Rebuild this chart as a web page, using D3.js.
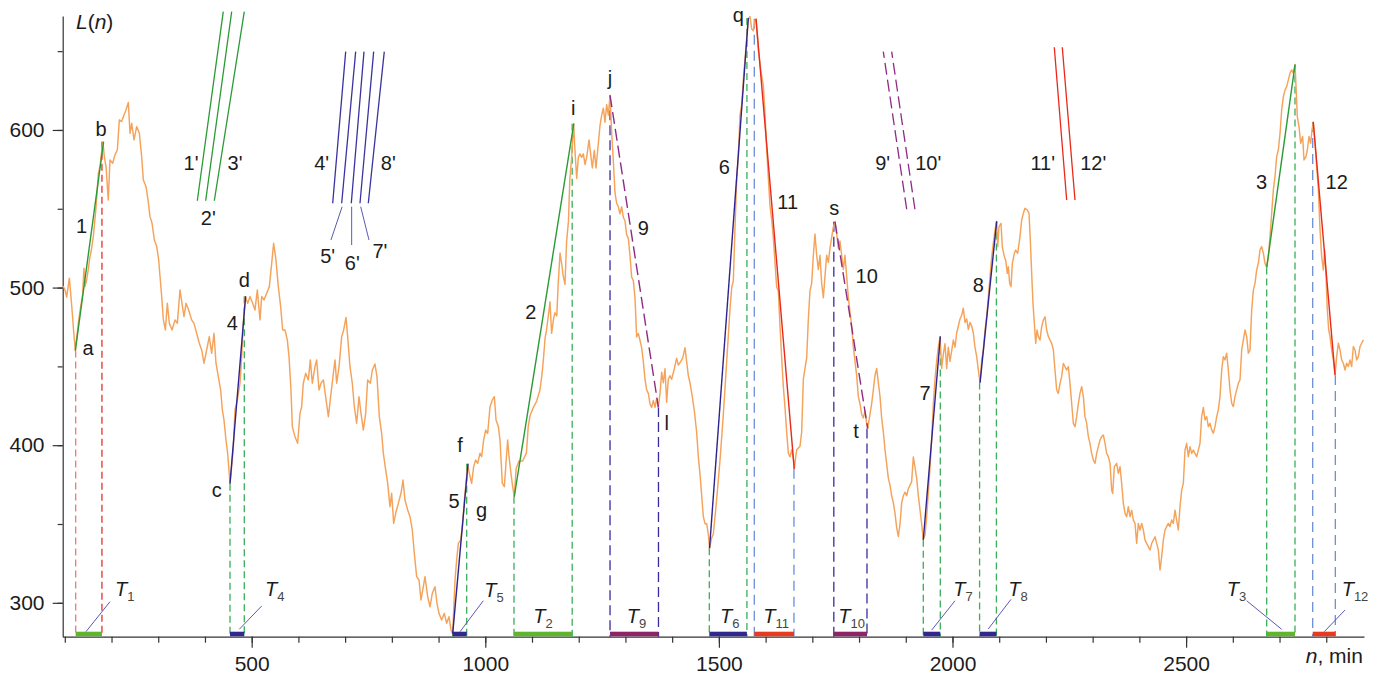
<!DOCTYPE html>
<html>
<head>
<meta charset="utf-8">
<script src="https://cdn.jsdelivr.net/npm/d3@7"></script>
<style>
  html, body { margin: 0; padding: 0; background: #fff; }
  svg { display: block; font-family: "Liberation Sans", Arial, Helvetica, sans-serif; }
</style>
</head>
<body>
<svg id="chart" width="1381" height="675"></svg>
<script>
// ---------------- data ----------------
// Level L(n) against time n (min): traced vertices [n, L]
const trace = [
  [96,501],[100,499],[104,494],[109.7,506],[113,495],[116,484],[119,472],[122.5,460],
  [128.9,477.3],[133.9,487.9],[138,495],[141,512.2],[143.2,500.6],[146.7,504.8],[150,511],[153.8,519.6],[157,524],[161,532.3],[163.7,540.8],[166,548],[169.6,562],[171.8,572.5],[175.4,576.8],[178,584],[181.5,592.6],
  [184.6,583.1],[188.2,576.8],[193.1,555.6],[196.7,581],[202.4,578.9],[207.4,584.2],[212.4,587.3],[216.7,606.4],[221.7,605.3],[226.7,609.5],[231,612.7],[236,617.4],[239.6,597.9],[243.2,604.2],[248.2,593.7],[253.8,602.1],[259.6,597.9],[264.5,583.1],[268.1,568.3],[273.8,564.1],[278.1,555.6],[282.4,545],[286.7,540.8],[291.7,530.2],[296.7,526],[301,517.5],[303.8,507],[307.4,494.3],[311,479.5],[315.2,473.1],[319.5,490],[323.8,477.3],[329.5,473.1],[335.9,479.5],[340.9,477.3],[346.5,498.5],[350.8,490],[355.1,481.6],[359.4,490],[365.1,485.8],[371.5,479.5],[376.5,477.3],[382.2,471],[387.9,464.7],[392.9,460.4],[397.9,452],[403.6,460.4],[409.3,468.9],[414.3,458.3],[419.3,471],[423.6,452],[428.6,443.5],[433.6,435],[437.2,422.4],[440.7,416],[445,403.3],[448.6,394.9],[453.6,375.6],
  [457.2,386.4],[460.8,399.1],[464.3,422.4],[469.3,428.7],[475,439.3],[478.6,456.2],[482.1,477.3],[486.4,494.3],
  [491.4,490],[496.4,494.3],[502.1,490],[507.1,485.8],[512.1,498.5],[517.8,479.5],[521.4,494.3],[526.4,492.2],[532.1,496.4],[537.8,500.6],[542.8,515.4],[547,528.1],[552,517.5],[557,500.6],[562,487.9],[566.3,473.1],[571.3,473.1],[576.3,466.8],
  [579.9,456.2],[584.1,435],[587,411.8],[592.7,405.4],[598.4,401.2],[603.4,420.2],[607,424.4],[610.5,439.3],[615.5,445.6],[621.2,441.4],[625.5,454.1],[629.8,439.3],[635.5,449.8],[639.1,454.1],[644.1,435],[648.4,439.3],[653.4,441.4],[658.3,430.8],[664.1,418.1],[669.8,432.9],[674.8,445.6],[678.3,454.1],[681.9,439.3],[687,449.8],[692.6,468.9],[696.9,473.1],[701.9,481.1],[705.4,468.9],[710.4,449.8],[715.4,439.3],[719.7,424.4],[724.7,413.9],[729.7,430.8],[734,420.2],[739,409.6],[744,420.2],[748.2,441.4],[754,439.3],[758.2,447.7],[763.9,451.5],[768.2,443.5],[773.2,418.1],[778.2,407.5],[781.8,394.8],[786.8,384.3],[791.1,375.8],[796,361],[799.6,369.5],[803.9,350.4],[808.2,356.8],[813.9,363.1],[819.6,369.5],[823.9,377.9],[828.1,365.2],[833.9,358.9],[838.9,354.6],[843.8,346.2],[848.1,331.4],[853.1,316.6],[858.1,314.5],[862.4,301.8],[867.4,310.2],[870.9,316.6],[876.7,303.9],[881.7,297.5],[886.6,306],[892.4,310.2],[896.6,299.7],[900.9,293.3],[906.6,289.1],[912.3,293.3],[917.3,287],[922.3,291.2],[926.6,282.7],[930.2,280.3],
  [935.2,314.5],[938.7,327.2],[942.3,337.7],[947.3,339.8],[950.9,348.3],[955.2,365.2],[959.4,377.9],[962.3,388],
  [965.8,382.1],[970.8,375.8],[975.1,386.4],[979.4,390.6],[983.7,388.5],[988.7,394.9],[992.2,392.7],[996.5,403.3],[1000.8,409.6],[1005.1,407.5],[1010.1,424.4],[1015.1,428.7],[1019.4,430.8],[1023,416],[1028,411.8],[1031.5,403.3],[1036.5,375.8],[1040.8,373.7],[1044.3,388.5],[1047.9,403.3],[1050.8,392.7],[1055,382.1],[1058.6,373.7],[1062,367.3],
  [1066,385],[1072,390],[1080,390],[1088,395],[1092,412],[1096,419],[1103,424],[1110,428],[1117,435],[1121,444],[1124,453],[1128,468],[1131,473],[1135,482],[1138.5,491],[1142,471],[1146,480],[1149,484],[1153,482],[1156,502],[1160,522],[1163.5,515],[1167,507],[1170.6,502],[1174,529],[1178,542],[1181,569],[1185,583],[1189,604],
  [1192,587],[1195.6,569.2],[1199.2,582.6],[1202.7,584.8],[1206.3,582.6],[1209.9,584.8],[1213.4,578.1],[1217,582.6],[1222,593.7],[1226.3,582.6],[1229.1,575.9],[1233.4,587],[1237,575.9],[1242,591.5],[1245.5,602.7],[1249.1,609.4],[1252.7,613.8],[1256.2,604.9],[1259.8,616.1],[1263.4,609.4],[1267,622],
  [1270.5,598.2],[1274.1,580.3],[1277.6,560.2],[1281.2,553.5],[1284.8,551.3],[1288.3,546.8],[1291.9,551.3],[1295.5,544.6],[1299,542.4],[1302.6,533.4],[1306.2,531.2],[1309.8,520],[1313.3,506.6],[1316.9,504.4],[1320.5,493.2],[1324,468.6],[1327.6,470.9],[1331.2,466.4],[1334.7,461.9],[1338.3,453],[1341.9,441.8],[1345.4,435.1],[1349,432.9],[1352.6,426.2],[1356.1,424],[1359.7,428.4],[1363.3,424],[1366.8,429.5],[1370.4,424.2],
  [1374,432.9],[1377.5,446.3],[1381.1,439.6],[1384.7,448.5],[1388.2,427.3],[1391.8,441.8],[1395.4,444.1],[1398.9,441.8],[1404.6,448.5],[1409.6,455.2],[1413.2,450.8],[1418.2,453],[1422.5,455.2],[1427.5,461.9],[1431,453],[1434.6,444.1],[1438.2,439.6],[1443.2,430.7],[1447.5,421.7],[1452.4,408.3],[1456,392.7],[1459.6,381.5],[1463.2,368.1],[1466.7,354.7],[1470.3,350.2],[1473.9,350.2],[1477.4,343.5],[1480,334.6],
  [1484.6,341.3],[1488.1,343.5],[1495.3,365.9],[1502.4,390.4],[1509.5,419.5],[1516.7,453],[1523.8,486.5],[1527.4,499.9],[1530.9,504.4],[1534.5,537.9],[1538.1,569.2],[1541.6,582.6],[1545.2,609.4],[1548.8,616.1],[1552.3,631.7],[1555.9,645.1],[1563,670.5],
  [1566.6,672],[1570.2,664.1],[1573.7,663],[1577.3,669.7],[1579.5,670.5],
  [1584.4,650.7],[1590.1,637.2],[1595.1,628.2],[1598.7,610.3],[1602.3,587.8],[1605.8,569.9],[1609.4,551.9],[1613,543],[1616.5,531.7],[1620.1,516],[1623.7,500.3],[1627.2,498.1],[1630.8,475.6],[1634.4,455.4],[1637.9,437.5],[1641.5,424],[1645.1,408.3],[1648.7,394.9],[1652.2,392.6],[1655.8,397.1],[1659.4,391.5],[1661.3,385],
  [1666.5,397.1],[1673.6,399.3],[1677.2,408.3],[1680.8,442],[1684.3,448.7],[1687.9,455.4],[1691.5,480.1],[1695,498.1],[1698.6,502.6],[1702.2,520.5],[1705.7,534],[1709.3,520.5],[1712.9,511.5],[1716.4,520.5],[1720,502.6],[1723.6,493.6],[1727.1,507.1],[1730.7,520.5],[1734.3,516],[1737.8,525],[1741.4,531.7],[1745,538.5],[1748.5,541.8],
  [1752.1,534],[1755.7,525],[1759.2,529.5],[1762.8,520.5],[1766.4,511.5],[1769.9,520.5],[1773.5,507.1],[1777.1,493.6],[1780.6,484.6],[1784.2,475.6],[1787.8,462.2],[1791.3,453.2],[1794.9,444.2],[1798.5,430.8],[1802,426.3],[1805.6,419.5],[1809.2,417.3],[1812.7,421.8],[1816.3,413.9],[1818.5,410.6],
  [1823.4,419.5],[1827,426.3],[1830.6,435.2],[1834.1,444.2],[1837.7,448.7],[1841.3,439.7],[1844.9,430.8],[1848.4,417.3],[1852,408.3],[1855.6,397.1],[1859.1,388.1],[1862.7,379.1],[1866.3,374.7],[1869.8,367.9],[1873.4,363.4],[1877,356.7],[1880.5,347.7],[1884.1,342.1],[1887.7,350],[1891.2,363.4],[1894.8,367.9],[1898.4,370.2],[1901.9,367.9],[1905.5,372.4],[1909.1,374.7],[1912.6,376.9],[1916.2,392.6],[1919.8,385.9],[1923.3,379.1],[1926.9,367.9],[1930.5,359],[1934,350],[1937.5,340],
  [1941.2,343.2],[1944.7,354.5],[1948.3,370.2],[1951.9,385.9],[1955.4,403.8],[1959,426.3],[1962.6,442],[1966.1,453.2],[1969.7,462.2],[1973.5,469],
  [1976.8,448.7],[1980.4,457.7],[1984,464.4],[1987.6,448.7],[1991.1,462.2],[1994.7,453.2],[1998.3,460],[2001.8,466.7],[2005.4,462.2],[2009,471.2],[2012.5,475.6],[2016.1,480.1],[2019.7,482.4],[2023.2,486.9],[2026.8,477.9],[2030.4,480.1],[2033.9,473.4],[2037.5,477.9],[2041.1,475.6],[2044.6,471.2],[2048.2,462],[2051.8,456.2],[2055.3,447.7],[2059,439.7],
  [2062.5,454],[2066,460.4],[2069.6,473.1],[2073.2,481.5],[2076.7,494.2],[2080.3,506.9],[2083.9,519.6],[2087.4,528],[2091,536.5],[2094.6,542],
  [2096.7,525.9],[2099.6,538.6],[2103.8,540.7],[2106.7,525.9],[2111,519.6],[2113.8,517.5],[2117.4,509],[2119.5,513.3],[2122.4,502.7],[2125.3,500.6],[2128.1,515.4],[2132.4,521.7],[2135.2,523.8],[2139.5,521.7],[2144.5,532.3],[2148.1,542.9],[2151.7,547.1],[2155.2,550.3],[2160.2,549.2],[2163.8,547.1],[2166.6,530.2],[2169.5,509],[2172.3,490],[2175.2,477.3],[2178.1,464.6],[2180.9,473.1],[2183.8,468.9],[2187.3,466.7],[2190.9,475.2],[2194.5,479.4],[2198,481.5],[2201.6,473.1],[2205.2,468.9],[2208.7,466.7],[2212.3,464.6],[2215.9,460.4],[2219.4,447.7],[2223,435],[2226.6,432.9],[2230.1,439.2],[2233.7,443.5],[2237.3,451.9],[2240.8,449.8],[2244.4,447.7],[2248,449.8],[2251.5,439.2],[2255.1,426.5],[2258.7,413.8],[2262.2,411.7],[2265.8,418.1],[2269.4,426.5],[2272.9,432.9],[2276.5,437.1],[2280.1,430.8],[2283.6,418.1],[2287.2,413.8],[2290.8,405.4],[2294.3,401.2],[2297.9,394.8],[2301.5,390.6],[2305,388.5],[2308.6,394.8],[2312.2,399.1],[2315.8,403.3],[2319.3,405.4],[2322.9,406.5],[2326.5,401.2],[2330,394.8],[2333.6,392.7],[2337.2,388.5],[2340.7,371.5],[2342.9,369.4],[2346.4,386.4],[2351.4,388.5],[2355,382.1],[2358.6,386.4],[2362.1,375.8],[2365.7,363.1],[2369.3,356.7],[2372.8,354.6],[2376.4,361],[2380,354.6],[2383.5,358.8],[2387.1,352.5],[2390.7,350.4],[2394.2,337.7],[2397.8,350.4],[2401.4,346.2],[2404.9,350.4],[2408.5,346.2],[2412.1,339.8],[2415.6,337.7],[2419.2,335.6],[2422.8,333.5],[2426.3,337.7],[2429.9,339.8],[2433.5,341.9],[2437,337.7],[2440.6,333.5],[2444.2,320.8],[2447.7,329.2],[2451.3,339.8],[2454.9,346.2],[2458.4,348.3],[2462,350.4],[2465.6,348.3],[2469.1,352.5],[2472.7,350.4],[2476.3,358.8],[2479.8,352.5],[2483.4,346.2],[2487,361],[2490.5,371.5],[2494.1,375.8],[2497.7,396.9],[2501.2,401.2],[2504.8,392.7],[2508.4,399.1],[2511.9,394.8],[2515.5,396.9],[2519.1,394.8],[2522.6,392.7],[2526.2,396.9],[2529.8,401.2],[2533.3,418.1],[2536.9,424],[2540.5,416],[2544.1,418.1],[2547.6,411.8],[2551.2,413.9],[2554.8,409.7],[2558.3,407.6],[2561.9,411.8],[2565.5,418.1],[2569,422.4],[2572.6,430.8],[2576.2,447.7],[2579.7,456.2],[2583.3,454.1],[2586.9,458.3],[2590.4,447.7],[2594,435.1],[2597.6,426.6],[2601.1,424.5],[2604.7,430.8],[2608.3,435.1],[2611.9,439.3],[2615.4,441.4],[2619,460.4],[2622.6,466.8],[2626.1,473.1],[2629.7,468.9],[2633.3,458.3],[2636.8,460.4],[2640.4,485.8],[2644,498.5],[2647.5,502.7],[2651.1,511.2],[2654.7,515.4],[2658.2,523.9],[2661.8,526],[2665.4,521.8],[2668.9,515.4],[2672.5,512.8],
  [2676.1,519.7],[2679.6,532.4],[2683.2,547.2],[2686.8,562],[2690.3,570.4],[2693.9,583.1],[2697.5,587.3],[2701.1,597.9],[2704.6,612.7],[2708.2,621.2],[2711.8,625.4],[2715.3,627.5],[2718.9,631.8],[2722.5,636],[2726,638.1],[2729.6,636],[2733.2,641.5],
  [2735.3,627.5],[2738.1,608.5],[2741.7,602.1],[2745.3,591.6],[2749.5,595.8],[2752.4,581],[2756.7,583.1],[2759.5,587.3],[2763.1,595.8],[2766.7,591.6],[2769.5,600],[2772.2,605],
  [2776,591.6],[2779.5,576.8],[2783.1,562],[2786.7,536.6],[2790.2,519.7],[2793.8,511.2],[2796.6,523.9],[2799.5,507],[2802.3,485.8],[2805.2,473.1],[2808.1,468.9],[2811.6,460.4],[2815.2,454.1],[2818.8,444.6],
  [2822.3,456.2],[2825.9,464.7],[2829.5,460.4],[2833,454.1],[2836.6,452],[2840.2,447.7],[2843.7,452],[2847.3,449.9],[2850.9,454.1],[2854.4,449.9],[2858,462.6],[2861.6,460.4],[2865.1,454.1],[2868.7,456.2],[2872.3,462.6],[2875.8,464.7],[2879.4,466.8]
];

// Straight-line fits: id, family (0 rise A, 1 rise B, 2 fall A, 3 fall B), start/end
const fitIds    = ["1", "4", "5", "2", "9", "6", "11", "10", "7", "8", "3", "12"];
const fitFamily = [0, 1, 1, 0, 2, 1, 3, 2, 1, 1, 0, 3];
const fitN0 = [122.5, 453.6, 930.2, 1062, 1267, 1480, 1579.5, 1748.5, 1937.5, 2059, 2672.5, 2772.2];
const fitL0 = [460, 375.6, 280.3, 367.3, 622, 334.6, 670.5, 541.8, 340, 439.7, 512.8, 605];
const fitN1 = [183, 487, 963, 1189.5, 1370.4, 1563, 1661.3, 1818.5, 1974, 2094.6, 2733.2, 2818.8];
const fitL1 = [592.5, 494.5, 388.2, 604, 424.2, 671, 385, 410.6, 469, 542, 641.5, 444.6];
// Fit number labels (centre, baseline)
const fitLabelN = [136.1, 458.5, 933, 1097.2, 1338.2, 1511.5, 1647.3, 1816.3, 1941.1, 2055.2, 2661.8, 2822.3];
const fitLabelL = [534.5, 473.1, 360, 479.9, 533.4, 572.1, 549.7, 502.7, 428.7, 497.4, 562.4, 562.4];

// Durations T_k: interval bounds on the n axis (same order as the fits)
const spanStart = [123.3, 453.6, 930.2, 1061.4, 1267, 1479.5, 1575.8, 1746, 1937.5, 2058, 2672.5, 2771];
const spanEnd   = [179.5, 484.2, 960.2, 1186, 1370.7, 1560, 1660.7, 1817, 1973.9, 2094, 2733.1, 2819.4];
const spanLabelN = [207.4, 528.5, 997.9, 1102.7, 1302.6, 1502.3, 1595, 1755.5, 2001.7, 2119.4, 2586.9, 2833];
const spanLabelL = [304.5, 304.3, 303.9, 287, 287, 287, 287, 287, 304.3, 304.3, 304.3, 304.3];
const spanLeaders = [
  [145.3, 281.7, 196.7, 300.7],
  [473.5, 283.2, 521.4, 298],
  [945.9, 281.7, 995.7, 301.3],
  null, null, null, null, null,
  [1955.5, 282.7, 2005.4, 301.3],
  [2076.6, 283.4, 2125.2, 302.2],
  [2704.6, 283.2, 2629.7, 301.3],
  [2795.8, 281.7, 2840.1, 295.4]
];

// Turning points
const pointText = ["a", "b", "c", "d", "f", "g", "i", "j", "l", "q", "s", "t"];
const pointN = [149.6, 177.4, 425.1, 484.2, 945.9, 992.3, 1188.4, 1266.9, 1388.3, 1541.5, 1747, 1793.4];
const pointL = [457.2, 596.2, 367.3, 500.6, 395.9, 354.6, 609.5, 628.6, 409.6, 668.7, 546.1, 404.4];

// Slope keys k' (bottom -> top), grouped by family
const keyIds    = ["1'", "2'", "3'", "4'", "5'", "6'", "7'", "8'", "9'", "10'", "11'", "12'"];
const keyFamily = [0, 0, 0, 1, 1, 1, 1, 1, 2, 2, 3, 3];
const keyN0 = [383.6, 401.5, 420, 673.4, 692.6, 713.2, 731.8, 749.6, 1902, 1919.6, 2244.4, 2262.2];
const keyL0 = [555.1, 555.1, 555.1, 553.5, 553.5, 553.5, 553.5, 553.5, 549.7, 549.7, 555.6, 555.6];
const keyN1 = [439.2, 457.2, 484.2, 701.2, 722.6, 740.4, 761.1, 783.8, 1851.9, 1869.8, 2217.9, 2235];
const keyL1 = [675.1, 675.1, 675.1, 649.7, 649.7, 649.7, 649.7, 649.7, 649.7, 649.7, 652.5, 652.5];
const keyLabelN = [370.1, 407.1, 464.3, 649.8, 662.7, 715.3, 774.6, 792.4, 1850.6, 1948.2, 2193.1, 2301.4];
const keyLabelL = [574.6, 539.7, 574.6, 574.6, 515.4, 511.2, 518.6, 574.6, 574.6, 574.6, 574.6, 574.6];
const keyLeaders = [null, null, null, null,
  [693.6, 551.3, 669.7, 530.2],
  [714, 551.3, 714, 527],
  [733.3, 551.3, 751.1, 530.2],
  null, null, null, null, null];

// Axis ticks
const xMinorTicks = d3.range(100, 2801, 100);
const xMajorTicks = [500, 1000, 1500, 2000, 2500];
const yMinorTicks = d3.range(300, 651, 50);
const yMajorTicks = [300, 400, 500, 600];

// ---------------- styling ----------------
const familyColor = ["#2b9a35", "#2d2391", "#8e2b86", "#e8291c"];
const familyDash  = [null, null, "12,5", null];
const barColor    = ["#5fb52e", "#30288f", "#8c2466", "#e83a1e"];
const keyColor    = ["#2b9a35", "#3a33a0", "#8e2b86", "#e8291c"];
// drop-line colour per family of the fit it belongs to
const dropColor   = ["#3aae5a", "#3aae5a", "#3a2c9c", "#6c8fd6"];
const dropDash    = ["7,4", "7,4", "10,5", "10,6"];
const firstDrop   = ["#f07a6e", "#e5322a"];
const inkColor = "#1c1c1c";
const axisColor = "#333";
const fontSize = 21;

// ---------------- chart ----------------
const svg = d3.select("#chart");
const x = d3.scaleLinear().domain([95.5, 2880.8]).range([62.7, 1364]);
const y = d3.scaleLinear().domain([278.5, 672.3]).range([636.7, 16]);
const baseY = y.range()[0];
const leftX = x.range()[0];

// axes
function styleAxis(g) {
  g.selectAll("path, line").attr("stroke", axisColor).attr("stroke-width", 1.2);
  g.selectAll("text").attr("fill", inkColor).attr("font-size", fontSize)
    .attr("font-family", '"Liberation Sans", Arial, sans-serif');
}
svg.append("g").attr("transform", `translate(0,${baseY})`)
  .call(d3.axisBottom(x).tickValues(xMinorTicks).tickSize(6).tickSizeOuter(0).tickFormat(""))
  .call(g => g.select(".domain").remove()).call(styleAxis);
svg.append("g").attr("transform", `translate(0,${baseY})`)
  .call(d3.axisBottom(x).tickValues(xMajorTicks).tickSize(11).tickSizeOuter(0).tickPadding(8.5).tickFormat(d3.format("d")))
  .call(styleAxis);
svg.append("g").attr("transform", `translate(${leftX},0)`)
  .call(d3.axisLeft(y).tickValues(yMinorTicks).tickSize(5).tickSizeOuter(0).tickFormat(""))
  .call(g => g.select(".domain").remove()).call(styleAxis);
svg.append("g").attr("transform", `translate(${leftX},0)`)
  .call(d3.axisLeft(y).tickValues(yMajorTicks).tickSize(10).tickSizeOuter(0).tickPadding(8.2).tickFormat(d3.format("d")))
  .call(styleAxis);

// axis titles
const yTitle = svg.append("text").attr("x", x(123.9)).attr("y", y(664.1))
  .attr("font-size", fontSize).attr("fill", inkColor);
yTitle.append("tspan").attr("font-style", "italic").text("L");
yTitle.append("tspan").text("(");
yTitle.append("tspan").attr("font-style", "italic").text("n");
yTitle.append("tspan").text(")");

const xTitle = svg.append("text").attr("x", x(2878.6)).attr("y", y(261.8))
  .attr("text-anchor", "end").attr("font-size", fontSize).attr("fill", inkColor);
xTitle.append("tspan").attr("font-style", "italic").text("n");
xTitle.append("tspan").text(", min");

// drop lines at interval bounds
const drops = [];
fitIds.forEach((id, i) => {
  const fam = fitFamily[i];
  drops.push({ n: spanStart[i], top: fitL0[i], color: i === 0 ? firstDrop[0] : dropColor[fam], dash: dropDash[fam] });
  drops.push({ n: spanEnd[i], top: fitL1[i], color: i === 0 ? firstDrop[1] : dropColor[fam], dash: dropDash[fam] });
});
svg.append("g").selectAll("line").data(drops).join("line")
  .attr("x1", d => x(d.n)).attr("x2", d => x(d.n))
  .attr("y1", d => y(d.top)).attr("y2", baseY)
  .attr("stroke", d => d.color).attr("stroke-width", 1.3)
  .attr("stroke-dasharray", d => d.dash);

// level trace
svg.append("path").datum(trace)
  .attr("fill", "none").attr("stroke", "#f5a35a").attr("stroke-width", 1.45)
  .attr("stroke-linejoin", "round")
  .attr("d", d3.line().x(d => x(d[0])).y(d => y(d[1])));

// straight-line fits
svg.append("g").selectAll("line").data(fitIds).join("line")
  .attr("x1", (d, i) => x(fitN0[i])).attr("y1", (d, i) => y(fitL0[i]))
  .attr("x2", (d, i) => x(fitN1[i])).attr("y2", (d, i) => y(fitL1[i]))
  .attr("stroke", (d, i) => familyColor[fitFamily[i]])
  .attr("stroke-dasharray", (d, i) => familyDash[fitFamily[i]])
  .attr("stroke-width", 1.4);

// duration bars
svg.append("g").selectAll("rect").data(fitIds).join("rect")
  .attr("x", (d, i) => x(spanStart[i])).attr("width", (d, i) => x(spanEnd[i]) - x(spanStart[i]))
  .attr("y", baseY - 5).attr("height", 4.6)
  .attr("fill", (d, i) => barColor[fitFamily[i]]);

// slope keys
svg.append("g").selectAll("line").data(keyIds).join("line")
  .attr("x1", (d, i) => x(keyN0[i])).attr("y1", (d, i) => y(keyL0[i]))
  .attr("x2", (d, i) => x(keyN1[i])).attr("y2", (d, i) => y(keyL1[i]))
  .attr("stroke", (d, i) => keyColor[keyFamily[i]])
  .attr("stroke-dasharray", (d, i) => familyDash[keyFamily[i]])
  .attr("stroke-width", 1.3);

// leader lines
const leaderData = spanLeaders.concat(keyLeaders).filter(d => d);
svg.append("g").selectAll("line").data(leaderData).join("line")
  .attr("x1", d => x(d[0])).attr("y1", d => y(d[1]))
  .attr("x2", d => x(d[2])).attr("y2", d => y(d[3]))
  .attr("stroke", "#5a5ab8").attr("stroke-width", 1);

// text labels
const labels = svg.append("g").attr("font-size", 20).attr("fill", inkColor).attr("text-anchor", "middle");
labels.selectAll("text.fit").data(fitIds).join("text").attr("class", "fit")
  .attr("x", (d, i) => x(fitLabelN[i])).attr("y", (d, i) => y(fitLabelL[i])).text(d => d);
labels.selectAll("text.pt").data(pointText).join("text").attr("class", "pt")
  .attr("x", (d, i) => x(pointN[i])).attr("y", (d, i) => y(pointL[i])).text(d => d);
labels.selectAll("text.key").data(keyIds).join("text").attr("class", "key")
  .attr("x", (d, i) => x(keyLabelN[i])).attr("y", (d, i) => y(keyLabelL[i])).text(d => d);

// T_k labels
const tLabels = svg.append("g").attr("fill", inkColor);
fitIds.forEach((id, i) => {
  const t = tLabels.append("text").attr("x", x(spanLabelN[i])).attr("y", y(spanLabelL[i]));
  t.append("tspan").attr("font-size", 20).attr("font-style", "italic").text("T");
  t.append("tspan").attr("font-size", 13).attr("dy", 5).attr("fill", "#444").text(id);
});
</script>
</body>
</html>
